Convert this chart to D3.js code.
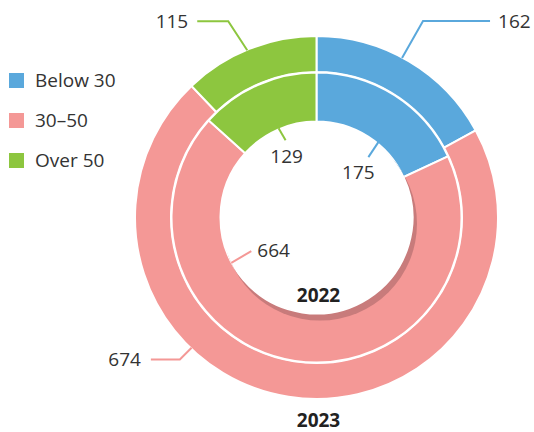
<!DOCTYPE html>
<html>
<head>
<meta charset="utf-8">
<script src="https://cdn.jsdelivr.net/npm/d3@7"></script>
<style>
  body { margin: 0; background: #fff; }
  svg text { font-family: "Open Sans", "Noto Sans", sans-serif; fill: #333; }
</style>
</head>
<body>
<div id="container"></div>
<script>
var width = 534,
    height = 432;

// data
var categories = ["Below 30", "30–50", "Over 50"];
var values_2023 = [162, 674, 115];   // outer ring
var values_2022 = [175, 664, 129];   // inner ring
var years = ["2022", "2023"];

var colors = ["#5aa8dc", "#f49896", "#8dc63f"];
var shadow_colors = ["#3f82b5", "#c87b7b", "#6f9f2e"];

// layout
var cx = 316.5, cy = 217.5;
var outer = {inner: 145.5, outer: 181.5},
    inner = {inner: 96, outer: 145};

// leader lines: angle on ring, radius, elbow offset, horizontal run, text offset
var outer_leaders = [
  {angle: 28.2, r: 181, elbow: [21, -37], run: 67, text: [8, 0], anchor: "start"},
  {angle: 223.8, r: 180.5, elbow: [-11.7, 11.6], run: -29, text: [-10, 0], anchor: "end"},
  {angle: 337.5, r: 181, elbow: [-19, -29], run: -31, text: [-9, 0], anchor: "end"}
];
var inner_leaders = [
  {angle: 39.4, r: 97.5, end: [-10, 15], text: [-10, 15], anchor: "middle"},
  {angle: 242, r: 96.5, end: [20, -11.7], text: [6, -1], anchor: "start"},
  {angle: 337, r: 97, end: [7, 12], text: [1, 15.5], anchor: "middle"}
];

var svg = d3.select("#container")
            .append("svg")
            .attr("width", width)
            .attr("height", height);

var pie = d3.pie().sort(null).value(function(d) { return d; });

var arc_outer = d3.arc().innerRadius(outer.inner).outerRadius(outer.outer);
var arc_inner = d3.arc().innerRadius(inner.inner).outerRadius(inner.outer);

var g = svg.append("g").attr("transform", "translate(" + cx + "," + cy + ")");

// shadow clip: disc shifted down-right, crossing the inner edge of the 2022 ring
var sh = 7, sh_ang = 150 * Math.PI / 180;
svg.append("defs").append("clipPath")
   .attr("id", "shadow-clip")
   .append("circle")
   .attr("cx", sh * Math.sin(sh_ang))
   .attr("cy", -sh * Math.cos(sh_ang))
   .attr("r", inner.inner + 1);

g.append("g").attr("id", "outer")
  .selectAll("path")
  .data(pie(values_2023))
  .enter().append("path")
  .attr("d", arc_outer)
  .style("fill", function(d, i) { return colors[i]; })
  .style("stroke", "#fff")
  .style("stroke-width", 2);

g.append("g").attr("id", "inner")
  .selectAll("path")
  .data(pie(values_2022))
  .enter().append("path")
  .attr("d", arc_inner)
  .style("fill", function(d, i) { return colors[i]; })
  .style("stroke", "#fff")
  .style("stroke-width", 2);

g.append("g").attr("id", "inner-shadow")
  .attr("clip-path", "url(#shadow-clip)")
  .selectAll("path")
  .data(pie(values_2022))
  .enter().append("path")
  .attr("d", arc_inner)
  .style("fill", function(d, i) { return shadow_colors[i]; })
  .style("stroke", "#fff")
  .style("stroke-width", 2);

function polar(angle, r) {
  var a = angle * Math.PI / 180;
  return [r * Math.sin(a), -r * Math.cos(a)];
}

// outer labels
outer_leaders.forEach(function(l, i) {
  var p0 = polar(l.angle, l.r),
      p1 = [p0[0] + l.elbow[0], p0[1] + l.elbow[1]],
      p2 = [p1[0] + l.run, p1[1]];
  g.append("polyline")
   .attr("points", [p0, p1, p2].map(function(p) { return p.join(","); }).join(" "))
   .style("fill", "none")
   .style("stroke", colors[i])
   .style("stroke-width", 2);
  g.append("text")
   .attr("x", p2[0] + l.text[0])
   .attr("y", p2[1] + l.text[1])
   .attr("dy", "0.36em")
   .attr("text-anchor", l.anchor)
   .style("font-size", "19px")
   .text(values_2023[i]);
});

// inner labels
inner_leaders.forEach(function(l, i) {
  var p0 = polar(l.angle, l.r),
      p1 = [p0[0] + l.end[0], p0[1] + l.end[1]];
  g.append("line")
   .attr("x1", p0[0]).attr("y1", p0[1])
   .attr("x2", p1[0]).attr("y2", p1[1])
   .style("stroke", colors[i])
   .style("stroke-width", 2);
  g.append("text")
   .attr("x", p1[0] + l.text[0])
   .attr("y", p1[1] + l.text[1])
   .attr("dy", "0.36em")
   .attr("text-anchor", l.anchor)
   .style("font-size", "19px")
   .text(values_2022[i]);
});

// year labels
g.append("text")
 .attr("x", 2).attr("y", 84)
 .attr("text-anchor", "middle")
 .style("font-size", "19px")
 .style("font-weight", "bold")
 .style("fill", "#222")
 .text(years[0]);

g.append("text")
 .attr("x", 2).attr("y", 209)
 .attr("text-anchor", "middle")
 .style("font-size", "19px")
 .style("font-weight", "bold")
 .style("fill", "#222")
 .text(years[1]);

// legend
var legend = svg.append("g").attr("id", "legend").attr("transform", "translate(9,73)");

var item = legend.selectAll(".item")
  .data(categories)
  .enter().append("g")
  .attr("class", "item")
  .attr("transform", function(d, i) { return "translate(0," + (i * 40) + ")"; });

item.append("rect")
  .attr("width", 15)
  .attr("height", 15)
  .style("fill", function(d, i) { return colors[i]; });

item.append("text")
  .attr("x", 26)
  .attr("y", 14)
  .style("font-size", "19px")
  .text(function(d) { return d; });
</script>
</body>
</html>
